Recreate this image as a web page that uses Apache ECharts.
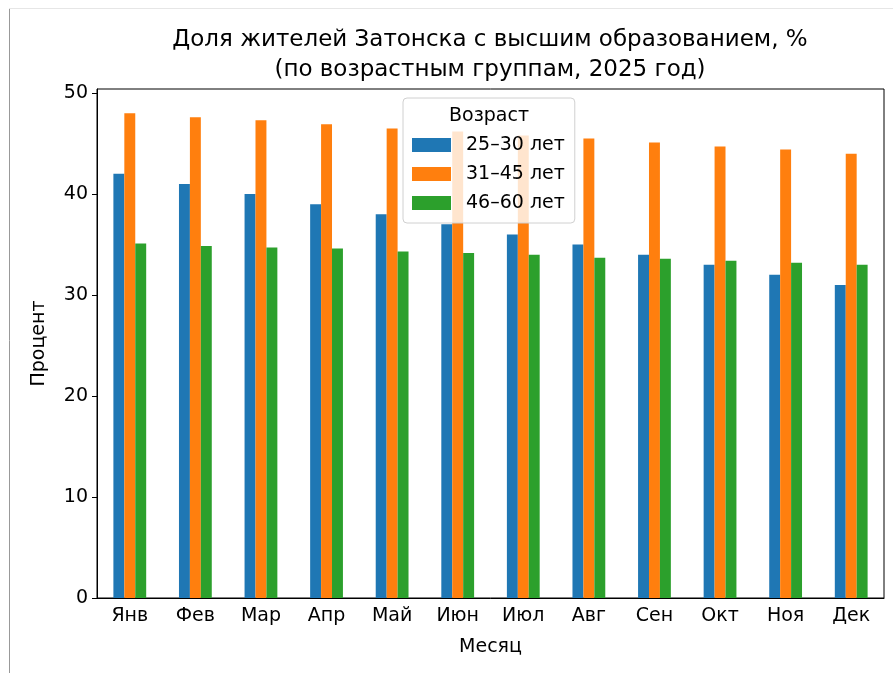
<!DOCTYPE html>
<html>
<head>
<meta charset="utf-8">
<script src="https://cdn.jsdelivr.net/npm/echarts@6/dist/echarts.min.js"></script>
<style>
html,body{margin:0;padding:0;background:#fff;}
#chart{width:893px;height:673px;}
</style>
</head>
<body>
<div id="chart"></div>
<script>
const months = ['Янв','Фев','Мар','Апр','Май','Июн','Июл','Авг','Сен','Окт','Ноя','Дек'];
const group25_30 = [42, 41, 40, 39, 38, 37, 36, 35, 34, 33, 32, 31];
const group31_45 = [48.0, 47.6, 47.3, 46.9, 46.5, 46.2, 45.8, 45.5, 45.1, 44.7, 44.4, 44.0];
const group46_60 = [35.1, 34.85, 34.7, 34.6, 34.3, 34.15, 34.0, 33.7, 33.6, 33.4, 33.2, 33.0];
const seriesNames = ['25–30 лет', '31–45 лет', '46–60 лет'];
const yTicks = [0, 10, 20, 30, 40, 50];

const font = 'DejaVu Sans';
const chart = echarts.init(document.getElementById('chart'));
const mkBar = (name, data, color) => ({
  name, type: 'bar', data,
  barWidth: '16.67%', barGap: '0%',
  itemStyle: { color },
  emphasis: { disabled: true }
});
chart.setOption({
  animation: false,
  backgroundColor: '#fff',
  textStyle: { fontFamily: font },
  graphic: [
    { type: 'line', shape: { x1: 9.5, y1: 8, x2: 9.5, y2: 673 }, style: { stroke: '#999', lineWidth: 1 } },
    { type: 'line', shape: { x1: 9, y1: 8.5, x2: 893, y2: 8.5 }, style: { stroke: '#e6e6e6', lineWidth: 1 } }
  ],
  title: [
    {
      text: 'Доля жителей Затонска с высшим образованием, %\n(по возрастным группам, 2025 год)',
      left: 490, top: 25, textAlign: 'center', padding: 0,
      textStyle: { fontFamily: font, fontSize: 23, fontWeight: 'normal', color: '#000', lineHeight: 30, align: 'center' }
    },
    {
      text: 'Возраст', left: 489, top: 107, textAlign: 'center', padding: 0, z: 10,
      textStyle: { fontFamily: font, fontSize: 19, fontWeight: 'normal', color: '#000' }
    }
  ],
  legend: {
    orient: 'vertical', left: 403, top: 98,
    width: 171,
    padding: [37, 10, 10, 9],
    itemWidth: 39, itemHeight: 14, itemGap: 9,
    backgroundColor: 'rgba(255,255,255,0.8)',
    borderColor: '#d0d0d0', borderWidth: 1, borderRadius: 4,
    icon: 'rect',
    textStyle: { fontFamily: font, fontSize: 19, color: '#000', padding: [0, 0, 0, 10], lineHeight: 20 },
    data: seriesNames
  },
  grid: { left: 97, right: 9, top: 89, bottom: 75, show: true, borderColor: '#000', borderWidth: 1, containLabel: false },
  xAxis: {
    type: 'category', data: months,
    axisLine: { lineStyle: { color: '#000', width: 1 } },
    axisTick: { alignWithLabel: true, length: 5, lineStyle: { color: '#000' } },
    axisLabel: { fontFamily: font, fontSize: 19, color: '#000', margin: 9 },
    name: 'Месяц', nameLocation: 'middle', nameGap: 40,
    nameTextStyle: { fontFamily: font, fontSize: 19, color: '#000' }
  },
  yAxis: {
    type: 'value', min: 0, max: 50.4, interval: 10,
    axisLine: { show: true, lineStyle: { color: '#000', width: 1 } },
    axisTick: { show: true, length: 5, lineStyle: { color: '#000' }, customValues: yTicks },
    axisLabel: { fontFamily: font, fontSize: 19, color: '#000', margin: 9, customValues: yTicks },
    splitLine: { show: false },
    name: 'Процент', nameLocation: 'middle', nameGap: 48,
    nameTextStyle: { fontFamily: font, fontSize: 19, color: '#000' }
  },
  series: [
    mkBar(seriesNames[0], group25_30, '#1f77b4'),
    mkBar(seriesNames[1], group31_45, '#ff7f0e'),
    mkBar(seriesNames[2], group46_60, '#2ca02c')
  ]
});
</script>
</body>
</html>
